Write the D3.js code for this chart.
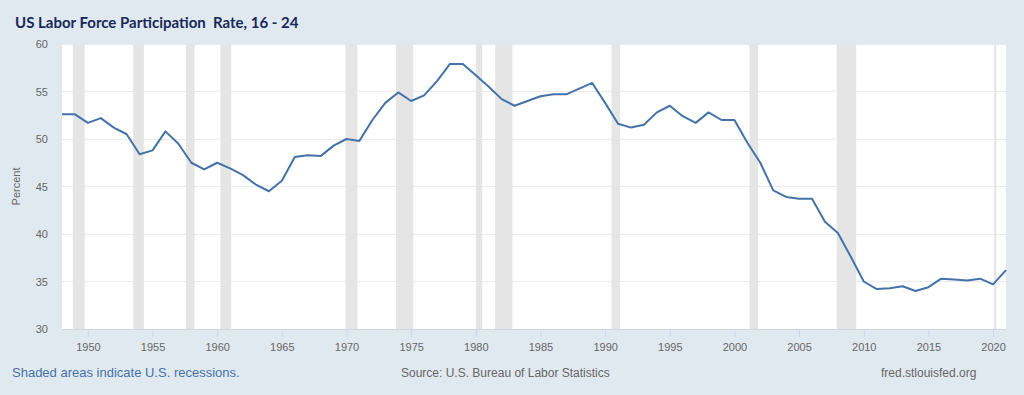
<!DOCTYPE html>
<meta charset="utf-8">
<style>
  body { margin: 0; background: #e1e9f0; }
  .axis text { font-family: "Liberation Sans", Arial, sans-serif; font-size: 11px; fill: #666; }
  .axis path { display: none; }
</style>
<div class="chart"></div>
<script src="https://cdn.jsdelivr.net/npm/d3@7"></script>
<script>
var years = d3.range(1948, 2022);
var rate = [
  52.6, 52.6, 51.7, 52.2, 51.2, 50.5, 48.4, 48.8, 50.8, 49.5,
  47.5, 46.8, 47.5, 46.9, 46.2, 45.2, 44.5, 45.6, 48.1, 48.3,
  48.2, 49.3, 50.0, 49.8, 52.0, 53.8, 54.9, 54.0, 54.6, 56.1,
  57.9, 57.9, 56.7, 55.5, 54.2, 53.5, 54.0, 54.5, 54.7, 54.7,
  55.3, 55.9, 53.8, 51.6, 51.2, 51.5, 52.8, 53.5, 52.4, 51.7,
  52.8, 52.0, 52.0, 49.6, 47.5, 44.6, 43.9, 43.7, 43.7, 41.3,
  40.1, 37.6, 35.0, 34.2, 34.3, 34.5, 34.0, 34.4, 35.3, 35.2,
  35.1, 35.3, 34.7, 36.2
];
var recessionStart = ["1948-11", "1953-07", "1957-08", "1960-04", "1969-12", "1973-11", "1980-01", "1981-07", "1990-07", "2001-03", "2007-12", "2020-02"];
var recessionEnd   = ["1949-10", "1954-05", "1958-04", "1961-02", "1970-11", "1975-03", "1980-07", "1982-11", "1991-03", "2001-11", "2009-06", "2020-04"];
var yTicks = [30, 35, 40, 45, 50, 55, 60];

var width = 1024, height = 395;
var margin = {top: 44, right: 18, bottom: 66, left: 62};
var parseMonth = d3.timeParse("%Y-%m");

var data = years.map((y, i) => ({date: new Date(y, 0, 1), value: rate[i]}));

var x = d3.scaleTime()
    .domain([new Date(1948, 0, 1), new Date(2021, 0, 1)])
    .range([margin.left, width - margin.right]);

var y = d3.scaleLinear()
    .domain([30, 60])
    .range([height - margin.bottom, margin.top]);

var svg = d3.select(".chart").append("svg")
    .attr("width", width)
    .attr("height", height);

svg.append("rect")
    .attr("x", margin.left).attr("y", margin.top)
    .attr("width", width - margin.left - margin.right)
    .attr("height", height - margin.top - margin.bottom)
    .attr("fill", "#fff");

svg.append("g").selectAll("line")
    .data(yTicks)
    .enter().append("line")
    .attr("x1", margin.left).attr("x2", width - margin.right)
    .attr("y1", d => y(d)).attr("y2", d => y(d))
    .attr("stroke", "#ebebeb")
    .attr("stroke-width", 1)
    .attr("shape-rendering", "crispEdges");

svg.append("g").selectAll("rect")
    .data(recessionStart)
    .enter().append("rect")
    .attr("x", d => x(parseMonth(d)))
    .attr("width", (d, i) => Math.max(2, x(parseMonth(recessionEnd[i])) - x(parseMonth(d))))
    .attr("y", margin.top)
    .attr("height", height - margin.top - margin.bottom)
    .attr("fill", "#e5e5e5");

// bottom axis line + ticks
svg.append("line")
    .attr("x1", margin.left).attr("x2", width - margin.right)
    .attr("y1", height - margin.bottom + 0.5).attr("y2", height - margin.bottom + 0.5)
    .attr("stroke", "#ccd6eb");

var xAxis = d3.axisBottom(x)
    .ticks(d3.timeYear.every(5))
    .tickFormat(d3.timeFormat("%Y"))
    .tickSize(8)
    .tickPadding(6);

svg.append("g")
    .attr("class", "x axis")
    .attr("transform", "translate(0," + (height - margin.bottom) + ")")
    .call(xAxis)
    .call(g => g.selectAll(".tick line").attr("stroke", "#ccd6eb"));

var yAxis = d3.axisLeft(y)
    .tickValues(yTicks)
    .tickSize(0)
    .tickPadding(14);

svg.append("g")
    .attr("class", "y axis")
    .attr("transform", "translate(" + margin.left + ",0)")
    .call(yAxis);

svg.append("text")
    .attr("transform", "translate(20," + ((margin.top + height - margin.bottom) / 2) + ") rotate(-90)")
    .attr("text-anchor", "middle")
    .attr("font-family", "Liberation Sans, Arial, sans-serif")
    .attr("font-size", 11)
    .attr("fill", "#666")
    .text("Percent");

var line = d3.line()
    .x(d => x(d.date))
    .y(d => y(d.value));

svg.append("path")
    .datum(data)
    .attr("fill", "none")
    .attr("stroke", "#4572a7")
    .attr("stroke-width", 2)
    .attr("stroke-linejoin", "round")
    .attr("d", line);

svg.append("text")
    .attr("x", 15).attr("y", 28)
    .attr("font-family", "Lato, sans-serif")
    .attr("font-weight", "bold")
    .attr("font-size", 15)
    .attr("fill", "#18285a")
    .style("white-space", "pre")
    .text("US Labor Force Participation  Rate, 16 - 24");

var foot = svg.append("g")
    .attr("font-family", "Liberation Sans, Arial, sans-serif")
    .attr("font-size", 12);

foot.append("text").attr("x", 12).attr("y", 377)
    .attr("fill", "#4572a7")
    .attr("font-size", 13)
    .text("Shaded areas indicate U.S. recessions.");

foot.append("text").attr("x", 401).attr("y", 377)
    .attr("fill", "#666")
    .text("Source: U.S. Bureau of Labor Statistics");

foot.append("text").attr("x", 881).attr("y", 377)
    .attr("fill", "#666")
    .text("fred.stlouisfed.org");
</script>
